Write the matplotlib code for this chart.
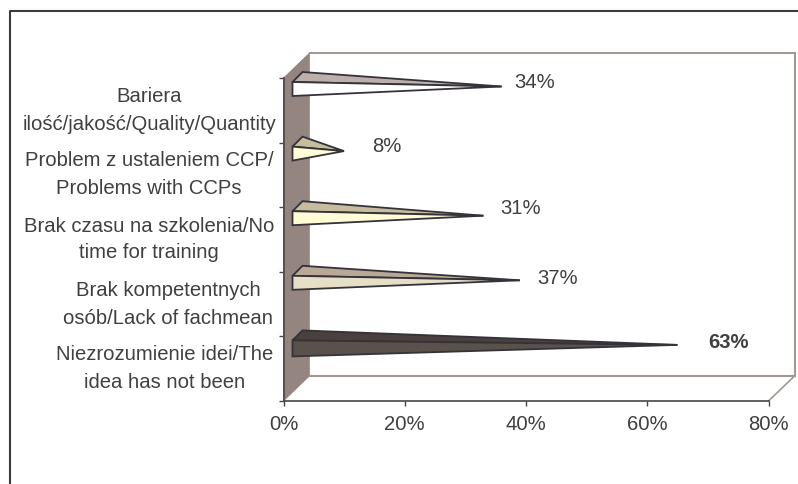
import matplotlib
matplotlib.use('Agg')
from matplotlib import pyplot as plt
from matplotlib.patches import Polygon
from matplotlib.lines import Line2D

label_lines = [
    ['Bariera', 'ilość/jakość/Quality/Quantity'],
    ['Problem z ustaleniem CCP/', 'Problems with CCPs'],
    ['Brak czasu na szkolenia/No', 'time for training'],
    ['Brak kompetentnych', 'osób/Lack of fachmean'],
    ['Niezrozumienie idei/The', 'idea has not been'],
]
values = [34, 8, 31, 37, 63]
value_labels = ['34%', '8%', '31%', '37%', '63%']
x_ticks = [0, 20, 40, 60, 80]
top_colors = ['#bcb0ac', '#c6bc9e', '#c6bc9e', '#b8a896', '#4a403d']
front_colors = ['#ffffff', '#fffcd6', '#fffcd6', '#e6dfc8', '#59514b']

W, H = 798, 484
TEXT = '#404040'
EDGE = '#35323a'
WALL = '#948580'
BACK = '#a49794'

plt.rcParams['font.family'] = ['Liberation Sans', 'DejaVu Sans']
fig = plt.figure(figsize=(W / 100, H / 100), dpi=100)
ax = fig.add_axes([283.5 / W, 1 - 401 / H, 485 / W, 323 / H])
ax.set_xlim(0, 80)
ax.set_ylim(5, 0)
for s in ax.spines.values():
    s.set_visible(False)
ax.patch.set_visible(False)

px = 80 / 485  # one pixel in x units
py = 5 / 323   # one pixel in band units
dx = 26 * px
dy = 25 * py

# ramka wokol wykresu
fig.add_artist(Line2D([9.5 / W, 9.5 / W, 1], [0, 1 - 11 / H, 1 - 11 / H],
                      color='#3c3c3c', lw=1.5, transform=fig.transFigure))

# sciana boczna i tylna krawedz
ax.add_patch(Polygon([(0, 0), (dx, -dy), (dx, 5 - dy), (0, 5)], fc=WALL, ec=WALL, lw=0.5, clip_on=False))
ax.plot([dx, 80 + dx, 80 + dx, dx], [-dy, -dy, 5 - dy, 5 - dy], color=BACK, lw=1.5, clip_on=False,
        solid_joinstyle='miter')
ax.plot([80, 80 + dx], [5, 5 - dy], color=BACK, lw=1.2, clip_on=False)
ax.plot([0, 0], [0, 5], color='#4a4648', lw=1.2, clip_on=False)
ax.plot([0, 80], [5, 5], color='#4a4648', lw=1.2, clip_on=False)

ax.set_xticks(x_ticks)
ax.set_xticklabels([f'{t}%' for t in x_ticks], fontsize=14.6, color=TEXT)
ax.set_yticks(range(6))
ax.set_yticklabels([])
ax.tick_params(axis='both', length=3.6, width=1, color='#4a4648', pad=6.5)

# przesuniecia podpisow wartosci wzgledem wartosci (piksele)
label_dx = [45, 55, 49, 50, 63]
label_y = [83, 147, 209, 279, 342]

# stozki
for i, v in enumerate(values):
    base = 9 * px
    tip = v + 12 * px
    h = 16 if i == 4 else 14
    y0 = i + 4 * py
    y1 = y0 + h * py
    ym = y0 + 4.5 * py
    ax.add_patch(Polygon([(base, y0), (base + 10 * px, y0 - 10 * py), (tip, ym)],
                         fc=top_colors[i], ec=EDGE, lw=1.3, clip_on=False, zorder=3))
    ax.add_patch(Polygon([(base, y0), (base, y1), (tip, ym)],
                         fc=front_colors[i], ec=EDGE, lw=1.3, clip_on=False, zorder=3))
    weight = 'bold' if i == 4 else 'normal'
    ax.text(v + label_dx[i] * px, (label_y[i] - 78) * py, value_labels[i], ha='center', va='center',
            fontsize=14.6, color=TEXT, fontweight=weight, zorder=4)

# podpisy kategorii, kazda linia osobno
line_y = [(96, 124), (161, 189), (226, 253), (290, 318), (355, 383)]
line_x = [149, 149, 149, 168, 165]
for lines, ys, x in zip(label_lines, line_y, line_x):
    for text, y in zip(lines, ys):
        fig.text(x / W, 1 - y / H, text, ha='center', va='center', fontsize=14.6, color=TEXT)

fig.savefig('out.png', dpi=100)
